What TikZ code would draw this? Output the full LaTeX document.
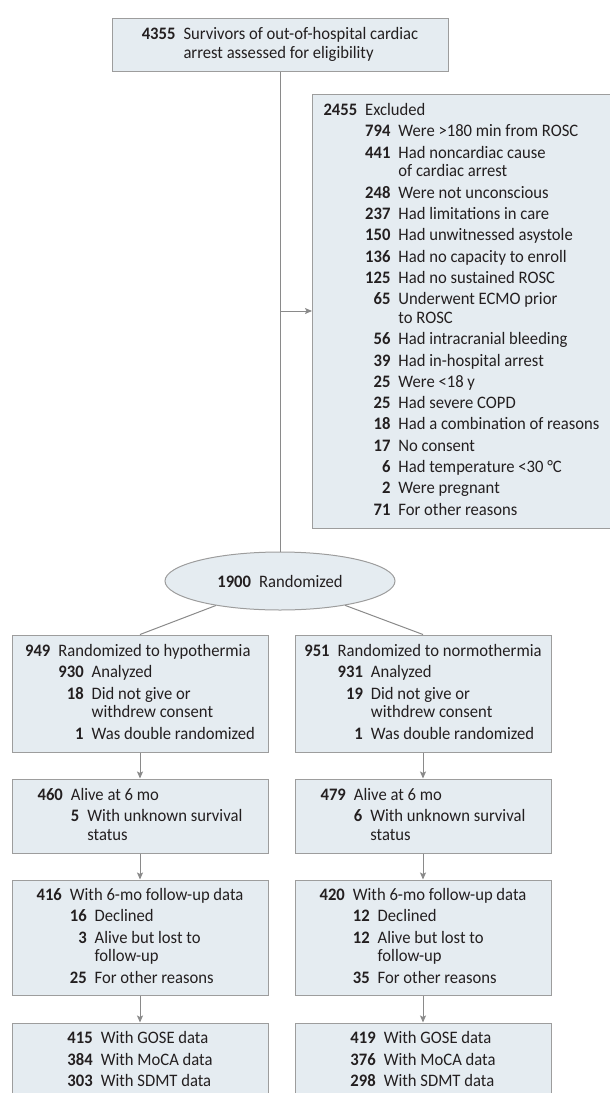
\documentclass[tikz,border=0pt]{standalone}
\usepackage{fontspec}
\setmainfont{Carlito}[FakeStretch=0.95]
\usepackage{array}
\usepackage{tikz}
\usetikzlibrary{positioning,shapes.geometric,arrows.meta,calc}
\definecolor{ink}     {HTML}{231F20}
\definecolor{boxfill} {HTML}{E5ECF1}
\definecolor{boxline} {HTML}{9D9D9D}
\definecolor{wire}    {HTML}{8A8A8A}
\newcommand{\nb}[1]{\textbf{#1}}
\tikzset{
  every node/.style={font=\fontsize{17.5}{21.3}\selectfont, text=ink},
  % --- nodes
  box/.style  = {draw=boxline, fill=boxfill, line width=1pt, inner sep=0pt,
                 align=left, minimum width=256pt},
  oval/.style = {box, ellipse, minimum width=230pt, minimum height=58pt},
  % --- edges
  ln/.style   = {draw=wire, line width=1pt},
  arr/.style  = {ln, -{Stealth[length=7pt,width=6pt,inset=1.5pt]}},
}

\begin{document}
\begin{tikzpicture}[x=1pt,y=-1pt]
  \useasboundingbox (0,0) rectangle (610,1093);

  % screening
  \node[box, minimum width=336pt, minimum height=53pt] (screen) at (280,44.5)
    {\begin{tabular}{@{}r@{\hspace{8pt}}l@{}}
      \nb{4355} & Survivors of out-of-hospital cardiac\\[-2.5pt]
                & arrest assessed for eligibility
     \end{tabular}};

  % exclusions
  \node[box, anchor=west, minimum width=0pt, minimum height=434pt, inner xsep=11pt]
    (excl) at (312,311)
    {\begin{tabular}{@{}r@{\hspace{8pt}}r@{\hspace{8pt}}l@{}}
      \nb{2455} & \multicolumn{2}{@{}l@{}}{Excluded}\\
      & \nb{794} & Were >180 min from ROSC\\
      & \nb{441} & Had noncardiac cause\\[-2.5pt]
      &          & of cardiac arrest\\
      & \nb{248} & Were not unconscious\\
      & \nb{237} & Had limitations in care\\
      & \nb{150} & Had unwitnessed asystole\\
      & \nb{136} & Had no capacity to enroll\\
      & \nb{125} & Had no sustained ROSC\\
      & \nb{65}  & Underwent ECMO prior\\[-2.5pt]
      &          & to ROSC\\
      & \nb{56}  & Had intracranial bleeding\\
      & \nb{39}  & Had in-hospital arrest\\
      & \nb{25}  & Were <18 y\\
      & \nb{25}  & Had severe COPD\\
      & \nb{18}  & Had a combination of reasons\\
      & \nb{17}  & No consent\\
      & \nb{6}   & Had temperature <30 °C\\
      & \nb{2}   & Were pregnant\\
      & \nb{71}  & For other reasons
     \end{tabular}};

  \node[oval] (rand) at (280,581) {\nb{1900}\hspace{8pt}Randomized};

  % hypothermia arm
  \node[box, minimum height=117pt] (hypo) at (140,693.5)
    {\begin{tabular}{@{}r@{\hspace{8pt}}r@{\hspace{8pt}}l@{}}
      \nb{949} & \multicolumn{2}{@{}l@{}}{Randomized to hypothermia}\\
      & \nb{930} & Analyzed\\
      & \nb{18}  & Did not give or\\[-2.5pt]
      &          & withdrew consent\\
      & \nb{1}   & Was double randomized
     \end{tabular}};
  \node[box, minimum height=74pt, below=26pt of hypo] (halive)
    {\begin{tabular}{@{}r@{\hspace{8pt}}r@{\hspace{8pt}}l@{}}
      \nb{460} & \multicolumn{2}{@{}l@{}}{Alive at 6 mo}\\
      & \nb{5} & With unknown survival\\[-2.5pt]
      &        & status
     \end{tabular}};
  \node[box, minimum height=115pt, below=26pt of halive] (hfollow)
    {\begin{tabular}{@{}r@{\hspace{8pt}}r@{\hspace{8pt}}l@{}}
      \nb{416} & \multicolumn{2}{@{}l@{}}{With 6-mo follow-up data}\\
      & \nb{16} & Declined\\
      & \nb{3}  & Alive but lost to\\[-2.5pt]
      &         & follow-up\\
      & \nb{25} & For other reasons
     \end{tabular}};
  \node[box, minimum height=76pt, below=27pt of hfollow] (hdata)
    {\begin{tabular}{@{}r@{\hspace{8pt}}l@{}}
      \nb{415} & With GOSE data\\
      \nb{384} & With MoCA data\\
      \nb{303} & With SDMT data
     \end{tabular}};

  % normothermia arm
  \node[box, minimum height=117pt, right=26pt of hypo] (normo)
    {\begin{tabular}{@{}r@{\hspace{8pt}}r@{\hspace{8pt}}l@{}}
      \nb{951} & \multicolumn{2}{@{}l@{}}{Randomized to normothermia}\\
      & \nb{931} & Analyzed\\
      & \nb{19}  & Did not give or\\[-2.5pt]
      &          & withdrew consent\\
      & \nb{1}   & Was double randomized
     \end{tabular}};
  \node[box, minimum height=74pt, below=26pt of normo] (nalive)
    {\begin{tabular}{@{}r@{\hspace{8pt}}r@{\hspace{8pt}}l@{}}
      \nb{479} & \multicolumn{2}{@{}l@{}}{Alive at 6 mo}\\
      & \nb{6} & With unknown survival\\[-2.5pt]
      &        & status
     \end{tabular}};
  \node[box, minimum height=115pt, below=26pt of nalive] (nfollow)
    {\begin{tabular}{@{}r@{\hspace{8pt}}r@{\hspace{8pt}}l@{}}
      \nb{420} & \multicolumn{2}{@{}l@{}}{With 6-mo follow-up data}\\
      & \nb{12} & Declined\\
      & \nb{12} & Alive but lost to\\[-2.5pt]
      &         & follow-up\\
      & \nb{35} & For other reasons
     \end{tabular}};
  \node[box, minimum height=76pt, below=27pt of nfollow] (ndata)
    {\begin{tabular}{@{}r@{\hspace{8pt}}l@{}}
      \nb{419} & With GOSE data\\
      \nb{376} & With MoCA data\\
      \nb{298} & With SDMT data
     \end{tabular}};

  % connectors
  \coordinate (split) at (screen.south |- excl.west);
  \draw[ln] (screen.south) -- (rand.north);
  \draw[arr] (split) -- (excl.west);
  \draw[ln] (rand) -- (hypo.north);
  \draw[ln] (rand) -- (normo.north);
  \draw[arr] (hypo) -- (halive);
  \draw[arr] (halive) -- (hfollow);
  \draw[arr] (hfollow) -- (hdata);
  \draw[arr] (normo) -- (nalive);
  \draw[arr] (nalive) -- (nfollow);
  \draw[arr] (nfollow) -- (ndata);
\end{tikzpicture}
\end{document}
